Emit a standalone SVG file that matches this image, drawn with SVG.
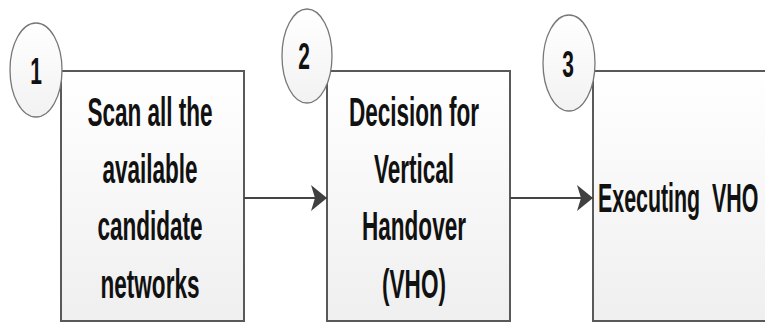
<svg xmlns="http://www.w3.org/2000/svg" width="765" height="323" viewBox="0 0 765 323">
  <defs>
    <linearGradient id="boxFill" x1="0" y1="0" x2="0" y2="1">
      <stop offset="0" stop-color="#ffffff"/>
      <stop offset="1" stop-color="#efefef"/>
    </linearGradient>
    <linearGradient id="badgeFill" x1="0" y1="0" x2="0" y2="1">
      <stop offset="0" stop-color="#ffffff"/>
      <stop offset="1" stop-color="#f2f2f2"/>
    </linearGradient>
    <marker id="arrow" viewBox="0 0 16 26" refX="16" refY="13" markerWidth="16" markerHeight="26" markerUnits="userSpaceOnUse" orient="auto">
      <path d="M0,0 L16,13 L0,26 L4,13 Z" fill="#404040"/>
    </marker>
  </defs>
  <style>
    .box { fill: url(#boxFill); stroke: #595959; stroke-width: 2; }
    .badge { fill: url(#badgeFill); stroke: #777777; stroke-width: 1.3; }
    .label { font-family: "Liberation Sans", Arial, sans-serif; font-weight: bold; font-size: 23px; fill: #111111; }
    .num { font-family: "Liberation Sans", Arial, sans-serif; font-weight: bold; font-size: 21px; fill: #111111; text-anchor: middle; }
    .edge { stroke: #444444; stroke-width: 2.2; fill: none; }
  </style>
  <rect width="765" height="323" fill="#ffffff"/>

  <!-- step 1 -->
  <g id="step1">
    <rect class="box" x="61" y="71" width="183" height="250"/>
    <ellipse class="badge" cx="36" cy="70" rx="26" ry="47"/>
    <text class="num" transform="translate(36,84) scale(1,1.8)">1</text>
    <g class="label" text-anchor="middle">
      <text transform="translate(150,126) scale(0.98,1.75)">Scan all the</text>
      <text transform="translate(150,183) scale(0.98,1.75)">available</text>
      <text transform="translate(150,240) scale(0.98,1.75)">candidate</text>
      <text transform="translate(150,298) scale(0.98,1.75)">networks</text>
    </g>
  </g>

  <!-- step 2 -->
  <g id="step2">
    <rect class="box" x="327" y="71" width="183" height="250"/>
    <ellipse class="badge" cx="307" cy="56" rx="25" ry="47"/>
    <text class="num" transform="translate(304,69) scale(1,1.8)">2</text>
    <g class="label" text-anchor="middle">
      <text transform="translate(414,126) scale(0.98,1.75)">Decision for</text>
      <text transform="translate(414,183) scale(0.98,1.75)">Vertical</text>
      <text transform="translate(414,240) scale(0.98,1.75)">Handover</text>
      <text transform="translate(414,298) scale(0.98,1.75)">(VHO)</text>
    </g>
  </g>

  <!-- step 3 -->
  <g id="step3">
    <rect class="box" x="593" y="71" width="190" height="250"/>
    <ellipse class="badge" cx="569" cy="63" rx="26" ry="48"/>
    <text class="num" transform="translate(568,77) scale(1,1.8)">3</text>
    <text class="label" transform="translate(598,212) scale(0.93,1.75)" xml:space="preserve">Executing  VHO</text>
  </g>

  <!-- connectors -->
  <g id="connectors">
    <line class="edge" x1="244" y1="198" x2="327" y2="198" marker-end="url(#arrow)"/>
    <line class="edge" x1="510" y1="198" x2="593" y2="198" marker-end="url(#arrow)"/>
  </g>
</svg>
